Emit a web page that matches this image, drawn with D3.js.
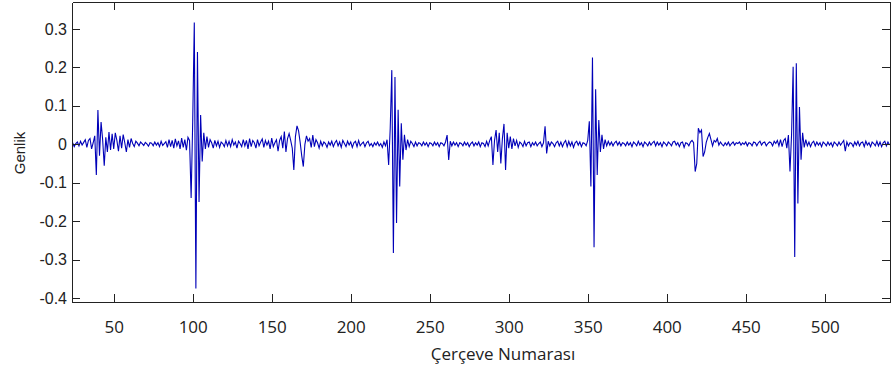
<!DOCTYPE html>
<html>
<head>
<meta charset="utf-8">
<script src="https://cdn.jsdelivr.net/npm/d3@7"></script>
<style>
  html, body { margin: 0; padding: 0; background: #fff; }
  svg { display: block; }
  .axis path, .axis line { stroke: #222; shape-rendering: crispEdges; }
  .xlab text { font-family: "Open Sans", sans-serif; font-size: 17px; fill: #222; }
  .ylab text { font-family: "Liberation Sans", Arial, sans-serif; font-size: 16px; fill: #222; }
</style>
</head>
<body>
<div id="chart"></div>
<script>
// frame numbers run from firstFrame, one amplitude value per frame
const firstFrame = 24;

// amplitude (Genlik), 50 frames per block
const amp024 = [
  0.004, -0.006, 0.002, 0.006, -0.004, 0.008, -0.002, 0.005, 0.012, -0.008,
  0.010, 0.015, -0.012, 0.004, 0.022, -0.080, 0.089, -0.030, 0.058, 0.012,
  -0.056, 0.018, -0.020, 0.032, -0.015, 0.027, -0.012, 0.030, 0.010, -0.018,
  0.022, -0.010, 0.025, 0.004, -0.020, 0.012, -0.008, 0.015, 0.002, -0.006,
  0.008, 0.003, -0.004, 0.006, 0.002, -0.003, 0.005, 0.001, -0.005, 0.004
];
const amp074 = [
  0.003, -0.004, 0.006, -0.002, 0.004, -0.006, 0.008, -0.003, 0.002, 0.007,
  -0.008, 0.012, -0.006, 0.010, -0.010, 0.014, -0.004, 0.009, -0.012, 0.016,
  -0.008, 0.012, -0.015, 0.018, 0.010, -0.140, 0.060, 0.317, -0.375, 0.240,
  -0.150, 0.076, -0.045, 0.030, -0.012, 0.020, -0.008, 0.012, 0.004, -0.010,
  0.010, -0.004, 0.008, -0.008, 0.006, 0.002, -0.006, 0.010, -0.004, 0.008
];
const amp124 = [
  -0.006, 0.012, -0.002, 0.006, -0.010, 0.008, 0.002, -0.006, 0.012, -0.004,
  0.010, -0.012, 0.015, -0.006, 0.010, 0.004, -0.010, 0.012, -0.004, 0.006,
  0.014, -0.008, 0.010, -0.002, 0.008, -0.012, 0.016, -0.006, 0.004, 0.012,
  -0.018, 0.010, 0.020, -0.010, 0.033, -0.020, 0.015, 0.028, 0.010, -0.010,
  -0.067, 0.020, 0.048, 0.035, 0.005, -0.030, -0.058, 0.000, 0.022, 0.008
];
const amp174 = [
  0.015, -0.008, 0.024, -0.006, 0.012, 0.004, -0.010, 0.008, -0.004, 0.006,
  0.002, -0.008, 0.006, -0.002, 0.008, -0.006, 0.004, 0.010, -0.004, 0.006,
  -0.008, 0.010, 0.002, -0.006, 0.008, -0.002, 0.006, -0.008, 0.004, 0.008,
  -0.006, 0.010, -0.004, 0.002, 0.006, -0.006, 0.004, 0.008, -0.004, 0.002,
  -0.006, 0.004, -0.002, 0.006, -0.004, 0.002, -0.008, 0.006, -0.004, 0.012
];
const amp224 = [
  -0.054, 0.042, 0.193, -0.283, 0.175, -0.205, 0.090, -0.110, 0.055, -0.040,
  0.025, -0.015, 0.012, -0.006, 0.008, 0.002, -0.006, 0.006, -0.004, 0.004,
  0.002, -0.004, 0.006, -0.002, 0.004, -0.006, 0.004, 0.002, -0.004, 0.006,
  -0.002, 0.004, -0.006, 0.004, 0.002, -0.004, 0.006, 0.024, -0.041, 0.008,
  -0.004, 0.006, -0.002, 0.004, -0.006, 0.004, 0.002, -0.004, 0.006, -0.002
];
const amp274 = [
  0.004, -0.006, 0.002, 0.006, -0.004, 0.004, -0.002, 0.006, -0.006, 0.004,
  0.002, -0.006, 0.008, -0.004, 0.010, 0.020, -0.054, 0.010, 0.037, -0.020,
  0.030, -0.050, 0.015, 0.053, -0.067, 0.030, -0.010, 0.020, -0.012, 0.015,
  -0.004, 0.010, -0.008, 0.006, 0.002, -0.006, 0.008, -0.004, 0.004, 0.006,
  -0.006, 0.004, -0.002, 0.006, -0.004, 0.002, 0.006, -0.006, 0.004, 0.047
];
const amp324 = [
  -0.024, 0.008, -0.004, 0.006, 0.002, -0.006, 0.004, 0.008, -0.004, 0.006,
  -0.006, 0.004, 0.010, -0.006, 0.008, -0.004, 0.006, -0.008, 0.004, 0.008,
  -0.002, 0.006, -0.006, 0.004, 0.002, -0.004, 0.010, 0.060, -0.110, 0.226,
  -0.268, 0.143, -0.080, 0.063, -0.020, 0.025, -0.012, 0.012, -0.004, 0.008,
  -0.002, 0.006, -0.004, 0.004, 0.008, -0.002, 0.006, -0.004, 0.004, 0.002
];
const amp374 = [
  -0.004, 0.006, -0.002, 0.004, -0.006, 0.006, 0.002, -0.004, 0.008, -0.002,
  0.004, -0.006, 0.006, 0.002, -0.004, 0.006, -0.002, 0.004, 0.008, -0.004,
  0.006, -0.002, 0.004, -0.006, 0.006, 0.002, -0.004, 0.006, 0.002, -0.004,
  0.006, 0.008, -0.002, 0.004, -0.006, 0.004, 0.006, -0.008, 0.004, 0.002,
  -0.004, 0.006, 0.010, 0.004, -0.071, -0.050, 0.042, 0.030, 0.037, -0.032
];
const amp424 = [
  -0.020, 0.005, 0.018, 0.028, 0.012, -0.004, 0.010, 0.006, 0.015, -0.002,
  0.006, 0.000, -0.004, 0.004, -0.002, 0.006, -0.004, 0.002, 0.006, -0.002,
  0.004, 0.002, 0.006, -0.002, 0.004, 0.000, 0.006, -0.004, 0.004, 0.002,
  -0.004, 0.006, 0.004, -0.004, 0.004, 0.008, -0.002, 0.004, 0.006, -0.004,
  0.002, 0.006, 0.004, -0.004, 0.008, 0.002, 0.010, -0.004, 0.012, -0.006
];
const amp474 = [
  0.010, 0.015, -0.010, 0.024, -0.071, 0.025, 0.202, -0.293, 0.211, -0.154,
  0.097, -0.040, 0.030, -0.008, 0.012, -0.004, 0.006, -0.006, 0.004, 0.008,
  -0.004, 0.006, -0.002, 0.004, -0.006, 0.006, 0.002, -0.004, 0.006, -0.002,
  0.004, -0.006, 0.006, 0.002, -0.004, 0.006, -0.002, 0.004, 0.010, -0.018,
  0.006, -0.004, 0.004, 0.002, -0.006, 0.006, -0.002, 0.008, -0.004, 0.004
];
const amp524 = [
  0.006, -0.006, 0.008, -0.002, 0.004, -0.006, 0.006, 0.002, -0.004, 0.008,
  -0.004, 0.006, -0.006, 0.004, 0.008, -0.004, 0.006, -0.002
];

const xTicks = [50, 100, 150, 200, 250, 300, 350, 400, 450, 500];
const yTicks = [-0.4, -0.3, -0.2, -0.1, 0, 0.1, 0.2, 0.3];
const yTickLabels = ["-0.4", "-0.3", "-0.2", "-0.1", "0", "0.1", "0.2", "0.3"];
const xTitle = "Çerçeve Numarası";
const yTitle = "Genlik";

const amplitude = [].concat(amp024, amp074, amp124, amp174, amp224, amp274,
  amp324, amp374, amp424, amp474, amp524);
const data = amplitude.map((v, i) => ({ frame: firstFrame + i, value: v }));

const width = 891, height = 373;
const plotLeft = 72, plotRight = 890, plotTop = 2, plotBottom = 302;

const svg = d3.select("#chart").append("svg")
  .attr("width", width)
  .attr("height", height);

const x = d3.scaleLinear().domain([23.6, 541.3]).range([plotLeft, plotRight]);
const y = d3.scaleLinear().domain([-0.4104, 0.3703]).range([plotBottom, plotTop]);

svg.append("defs").append("clipPath").attr("id", "plotclip")
  .append("rect").attr("x", plotLeft).attr("y", plotTop)
  .attr("width", plotRight - plotLeft).attr("height", plotBottom - plotTop);

// signal
const line = d3.line().x(d => x(d.frame)).y(d => y(d.value));
svg.append("path")
  .datum(data)
  .attr("clip-path", "url(#plotclip)")
  .attr("d", line)
  .attr("fill", "none")
  .attr("stroke", "#0000b8")
  .attr("stroke-width", 1.1)
  .attr("stroke-linejoin", "miter");

// box axes, ticks pointing inwards
svg.append("g").attr("class", "axis xlab")
  .attr("transform", `translate(0,${plotBottom})`)
  .call(d3.axisBottom(x).tickValues(xTicks).tickSizeInner(-8).tickSizeOuter(0).tickPadding(19));

svg.append("g").attr("class", "axis")
  .attr("transform", `translate(0,${plotTop})`)
  .call(d3.axisTop(x).tickValues(xTicks).tickSizeInner(-8).tickSizeOuter(0).tickFormat(""));

svg.append("g").attr("class", "axis ylab")
  .attr("transform", `translate(${plotLeft},0)`)
  .call(d3.axisLeft(y).tickValues(yTicks).tickSizeInner(-8).tickSizeOuter(0).tickPadding(5)
    .tickFormat((d, i) => yTickLabels[i]));

svg.append("g").attr("class", "axis")
  .attr("transform", `translate(${plotRight},0)`)
  .call(d3.axisRight(y).tickValues(yTicks).tickSizeInner(-8).tickSizeOuter(0).tickFormat(""));

svg.selectAll(".axis").attr("font-family", null).attr("font-size", null);

// titles
svg.append("text")
  .attr("x", 503)
  .attr("y", 360)
  .attr("text-anchor", "middle")
  .style("font-family", "'Open Sans', sans-serif")
  .style("font-size", "17px")
  .style("fill", "#222")
  .text(xTitle);

svg.append("text")
  .attr("transform", "translate(25,153) rotate(-90)")
  .attr("text-anchor", "middle")
  .style("font-family", "'Liberation Sans', Arial, sans-serif")
  .style("font-size", "15px")
  .style("fill", "#222")
  .text(yTitle);
</script>
</body>
</html>
